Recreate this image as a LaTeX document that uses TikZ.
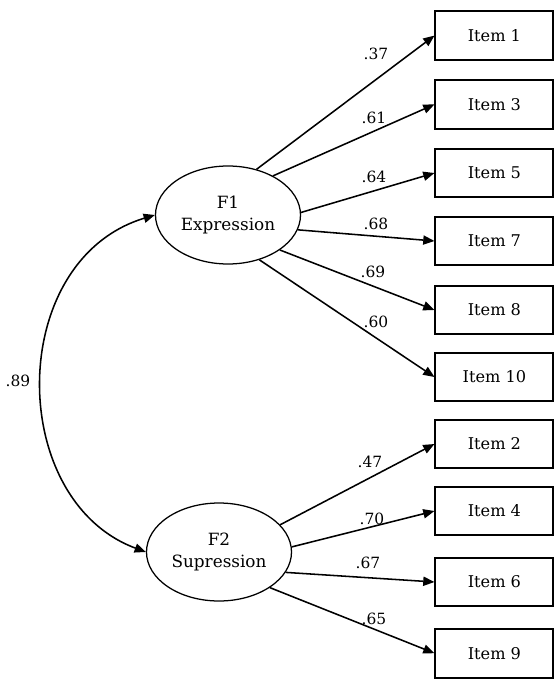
\documentclass[tikz,border=0pt]{standalone}
\usepackage{fontspec}
\setmainfont{DejaVu Serif}
\usepackage{tikz}
\usetikzlibrary{arrows.meta, shapes.geometric}

\begin{document}
\begin{tikzpicture}[
  factor/.style={ellipse, draw, line width=0.9pt, inner sep=0pt,
                 minimum width=3.625cm, minimum height=2.45cm, align=center,
                 font=\fontsize{12}{15.5}\selectfont},
  item/.style={rectangle, draw, line width=1.3pt, minimum width=2.95cm,
               minimum height=1.22cm, font=\fontsize{11.5}{13}\selectfont},
  load/.style={font=\fontsize{11}{12}\selectfont, inner sep=1pt},
  arrow/.style={-{Triangle[length=8pt, width=6.5pt]}, line width=1.1pt},
]
\useasboundingbox (0,0) rectangle (13.975,-17.125);
% latent factors
\node[factor] (F1) at (5.7, -5.375)  {F1\\Expression};
\node[factor] (F2) at (5.475, -13.8) {F2\\Supression};
% observed items
\node[item] (i1)  at (12.36, -0.89)  {Item 1};
\node[item] (i3)  at (12.36, -2.61)  {Item 3};
\node[item] (i5)  at (12.36, -4.325) {Item 5};
\node[item] (i7)  at (12.36, -6.025) {Item 7};
\node[item] (i8)  at (12.36, -7.75)  {Item 8};
\node[item] (i10) at (12.36, -9.425) {Item 10};
\node[item] (i2)  at (12.36, -11.1)  {Item 2};
\node[item] (i4)  at (12.36, -12.775){Item 4};
\node[item] (i6)  at (12.36, -14.55) {Item 6};
\node[item] (i9)  at (12.36, -16.33) {Item 9};
% loadings
\draw[arrow] (F1.58)  -- (i1.west);
\draw[arrow] (F1.41)  -- (i3.west);
\draw[arrow] (F1.2)   -- (i5.west);
\draw[arrow] (F1.-12) -- (i7.west);
\draw[arrow] (F1.-34) -- (i8.west);
\draw[arrow] (F1.-55) -- (i10.west);
\draw[arrow] (F2.24)  -- (i2.west);
\draw[arrow] (F2.4)   -- (i4.west);
\draw[arrow] (F2.-17) -- (i6.west);
\draw[arrow] (F2.-35) -- (i9.west);
\node[load] (l1)  at (9.4, -1.35)   {.37};
\node[load] (l3)  at (9.35, -2.95)  {.61};
\node[load] (l5)  at (9.35, -4.425) {.64};
\node[load] (l7)  at (9.4, -5.6)    {.68};
\node[load] (l8)  at (9.325, -6.8)  {.69};
\node[load] (l10) at (9.4, -8.05)   {.60};
\node[load] (l2)  at (9.25, -11.55) {.47};
\node[load] (l4)  at (9.3, -12.975) {.70};
\node[load] (l6)  at (9.2, -14.075) {.67};
\node[load] (l9)  at (9.35, -15.475){.65};
% covariance
\draw[{Triangle[length=8pt, width=6.5pt]}-{Triangle[length=8pt, width=6.5pt]}, line width=1.1pt]
  (F1.west) .. controls (0.15, -6.5) and (0.15, -12.5) .. (F2.west);
\node[load] (cov) at (0.45, -9.525) {.89};
\end{tikzpicture}
\end{document}
